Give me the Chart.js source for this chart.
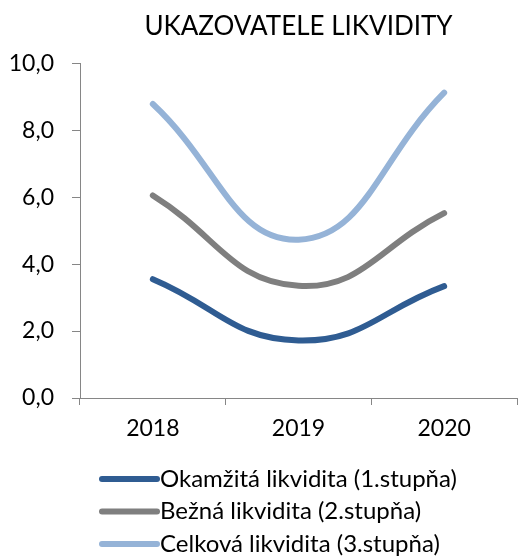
<!DOCTYPE html>
<html>
<head>
<meta charset="utf-8">
<script src="https://cdn.jsdelivr.net/npm/chart.js@4.4.0/dist/chart.umd.min.js"></script>
<style>
  html, body { margin: 0; padding: 0; background: #fff; }
  #wrap { width: 520px; height: 557px; }
</style>
</head>
<body>
<div id="wrap"><canvas id="myChart" width="520" height="557"></canvas></div>
<script>
const years = ["2018", "2019", "2020"];
const okamzita = [3.55, 1.72, 3.34];
const bezna = [6.05, 3.35, 5.52];
const celkova = [8.78, 4.73, 9.12];
const seriesNames = ["Okamžitá likvidita (1.stupňa)", "Bežná likvidita (2.stupňa)", "Celková likvidita (3.stupňa)"];

const FONT = "Lato, 'DejaVu Sans', sans-serif";

// legend drawn under the plot, one row per series
const lineLegend = {
  id: "lineLegend",
  afterDraw(chart) {
    const ctx = chart.ctx;
    ctx.save();
    chart.data.datasets.forEach((ds, i) => {
      const y = 479 + i * 32.5;
      ctx.beginPath();
      ctx.strokeStyle = ds.borderColor;
      ctx.lineWidth = 6;
      ctx.lineCap = "round";
      ctx.moveTo(102, y);
      ctx.lineTo(157, y);
      ctx.stroke();
      ctx.fillStyle = "#000";
      ctx.font = "24px " + FONT;
      ctx.textBaseline = "middle";
      ctx.textAlign = "left";
      ctx.fillText(ds.label, 160, y);
    });
    ctx.restore();
  }
};

new Chart(document.getElementById("myChart").getContext("2d"), {
  type: "line",
  data: {
    labels: years,
    datasets: [
      { label: seriesNames[0], data: okamzita, borderColor: "#2F5C92" },
      { label: seriesNames[1], data: bezna, borderColor: "#7F7F7F" },
      { label: seriesNames[2], data: celkova, borderColor: "#95B3D7" }
    ].map(d => Object.assign(d, {
      borderWidth: 6,
      tension: 0.45,
      pointRadius: 0,
      fill: false,
      borderCapStyle: "round"
    }))
  },
  options: {
    responsive: false,
    animation: false,
    layout: { padding: { left: 0, right: 3, top: 0, bottom: 109 } },
    plugins: {
      legend: { display: false },
      tooltip: { enabled: false },
      title: {
        display: true,
        fullSize: false,
        text: "UKAZOVATELE LIKVIDITY",
        color: "#000",
        font: { family: FONT, size: 26, weight: "normal" },
        padding: { top: 11, bottom: 21 }
      }
    },
    scales: {
      x: {
        offset: true,
        afterFit: (s) => { s.height = 50; },
        border: { color: "#868686", width: 1 },
        grid: { display: true, offset: true, drawOnChartArea: false, tickLength: 7, color: "#868686" },
        ticks: { color: "#000", padding: 10, font: { family: FONT, size: 23 } }
      },
      y: {
        min: 0,
        max: 10,
        afterFit: (s) => { s.width = 80; },
        border: { color: "#868686", width: 1 },
        grid: { display: true, drawOnChartArea: false, tickLength: 8, color: "#868686" },
        ticks: {
          stepSize: 2,
          color: "#000",
          padding: 18,
          font: { family: FONT, size: 23 },
          callback: (v) => v.toFixed(1).replace(".", ",")
        }
      }
    }
  },
  plugins: [lineLegend]
});
</script>
</body>
</html>
